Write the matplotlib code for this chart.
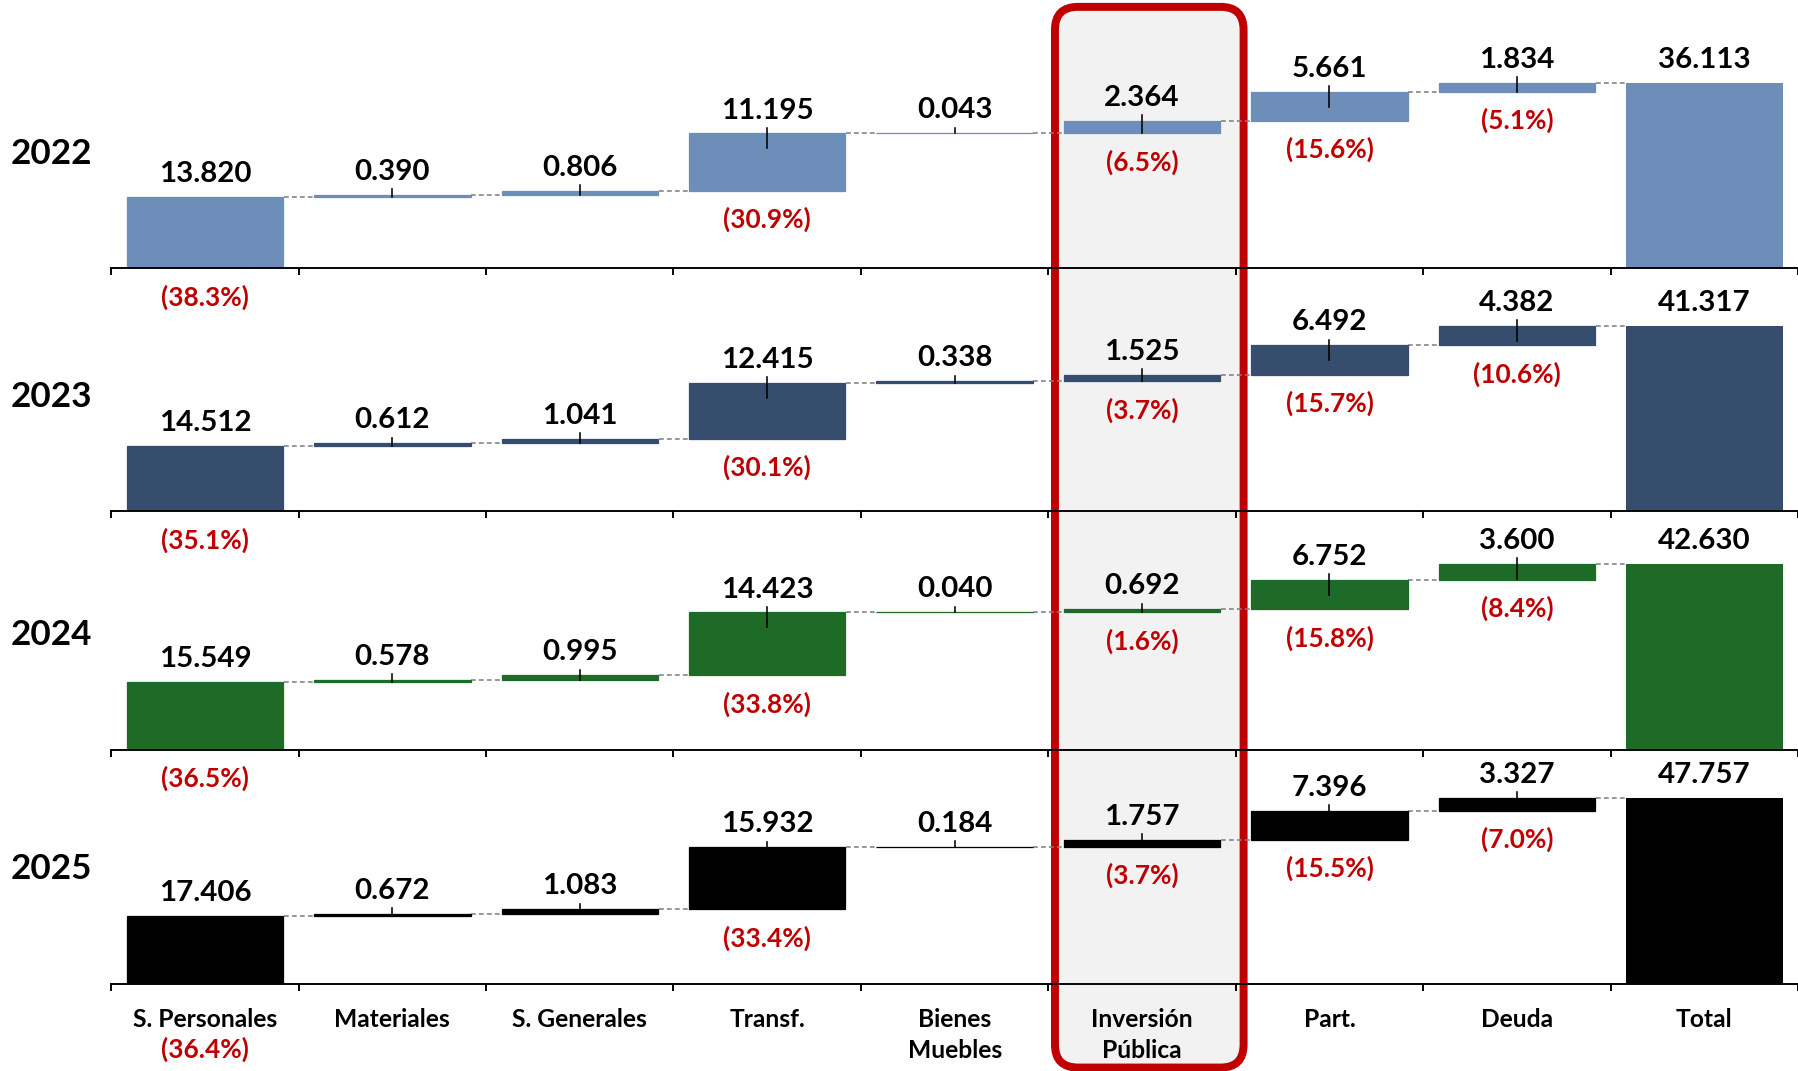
import numpy as np
import matplotlib.pyplot as plt
from matplotlib.patches import FancyBboxPatch

plt.rcParams['font.family'] = ['Lato', 'DejaVu Sans']
plt.rcParams['font.weight'] = 'bold'

categories = ['S. Personales', 'Materiales', 'S. Generales', 'Transf.', 'Bienes\nMuebles',
              'Inversión\nPública', 'Part.', 'Deuda', 'Total']
years = ['2022', '2023', '2024', '2025']

values_2022 = [13.820, 0.390, 0.806, 11.195, 0.043, 2.364, 5.661, 1.834]
values_2023 = [14.512, 0.612, 1.041, 12.415, 0.338, 1.525, 6.492, 4.382]
values_2024 = [15.549, 0.578, 0.995, 14.423, 0.040, 0.692, 6.752, 3.600]
values_2025 = [17.406, 0.672, 1.083, 15.932, 0.184, 1.757, 7.396, 3.327]
totals = [36.113, 41.317, 42.630, 47.757]

pct_2022 = [38.3, None, None, 30.9, None, 6.5, 15.6, 5.1]
pct_2023 = [35.1, None, None, 30.1, None, 3.7, 15.7, 10.6]
pct_2024 = [36.5, None, None, 33.8, None, 1.6, 15.8, 8.4]
pct_2025 = [36.4, None, None, 33.4, None, 3.7, 15.5, 7.0]

colors = ['#6E8EBA', '#374D6E', '#1E6B28', '#000000']

values = [values_2022, values_2023, values_2024, values_2025]
pcts = [pct_2022, pct_2023, pct_2024, pct_2025]

# layout in "shown" pixels of a 1568x934 canvas (saved at 1798x1071)
W, H = 1568, 934
baselines = [234, 446, 654, 858]
x_left, cat_w = 97, 164.5
bar_h = 162      # pixel height of the total bar in every panel
ax_h = 200
red = '#C00000'

fig = plt.figure(figsize=(W / 100, H / 100), dpi=100)

# highlight box around "Inversión Pública"
box = FancyBboxPatch((920 / 100, 3 / 100), 164.5 / 100, 925 / 100,
                     boxstyle='round,pad=0,rounding_size=0.2',
                     transform=fig.dpi_scale_trans, facecolor='#F2F2F2',
                     edgecolor=red, linewidth=5, zorder=0)
fig.patches.append(box)

for k in range(4):
    base = baselines[k]
    vals, tot, pc, col = values[k], totals[k], pcts[k], colors[k]
    ax = fig.add_axes([x_left / W, (H - base) / H, (W - x_left) / W, ax_h / H])
    ax.set_zorder(2)
    ax.set_facecolor('none')
    ax.set_xlim(-0.5, -0.5 + (W - x_left) / cat_w)
    ax.set_ylim(0, tot * ax_h / bar_h)
    upx = tot / bar_h

    cum = 0.0
    for i, v in enumerate(vals):
        bottom, top = cum, cum + v
        ax.bar(i, v, bottom=bottom, width=0.835, color=col, edgecolor=col,
               linewidth=0.8, zorder=2)
        ax.text(i, top + 20 * upx, f'{v:.3f}', ha='center', va='center',
                fontsize=18.5, fontweight='bold', color='black', clip_on=False)
        if i > 0:
            ax.plot([i, i], [top + 5 * upx, max(bottom, top - 13 * upx)],
                    color='black', lw=1, zorder=3)
        if pc[i] is not None:
            off = 57 if (k == 3 and i == 0) else 25
            ax.text(i, bottom - off * upx, f'({pc[i]:.1f}%)', ha='center', va='center',
                    fontsize=16.5, fontweight='bold', color=red, clip_on=False)
        ax.plot([i + 0.42, i + 0.58], [top, top], color='#808080',
                lw=1, ls=(0, (3, 2)), zorder=1)
        cum = top

    ax.bar(8, tot, width=0.835, color=col, zorder=2)
    ax.text(8, tot + 20 * upx, f'{tot:.3f}', ha='center', va='center',
            fontsize=18.5, fontweight='bold', color='black', clip_on=False)

    for s in ['top', 'right', 'left']:
        ax.spines[s].set_visible(False)
    ax.spines['bottom'].set_linewidth(1.2)
    ax.set_yticks([])
    ax.set_xticks(range(9))
    ax.set_xticks(np.arange(-0.5, 9, 1), minor=True)
    ax.tick_params(axis='x', which='minor', length=4.5, width=1.2, direction='out')
    ax.tick_params(axis='x', which='major', length=0, pad=15)
    if k == 3:
        ax.set_xticklabels(categories, fontsize=15.5, fontweight='bold')
        for lbl in ax.get_xticklabels():
            lbl.set_linespacing(1.45)
    else:
        ax.set_xticklabels([])

    fig.text(45 / W, (H - (base - 100)) / H, years[k], ha='center', va='center',
             fontsize=22, fontweight='bold')

fig.savefig('out.png', dpi=114.67)
